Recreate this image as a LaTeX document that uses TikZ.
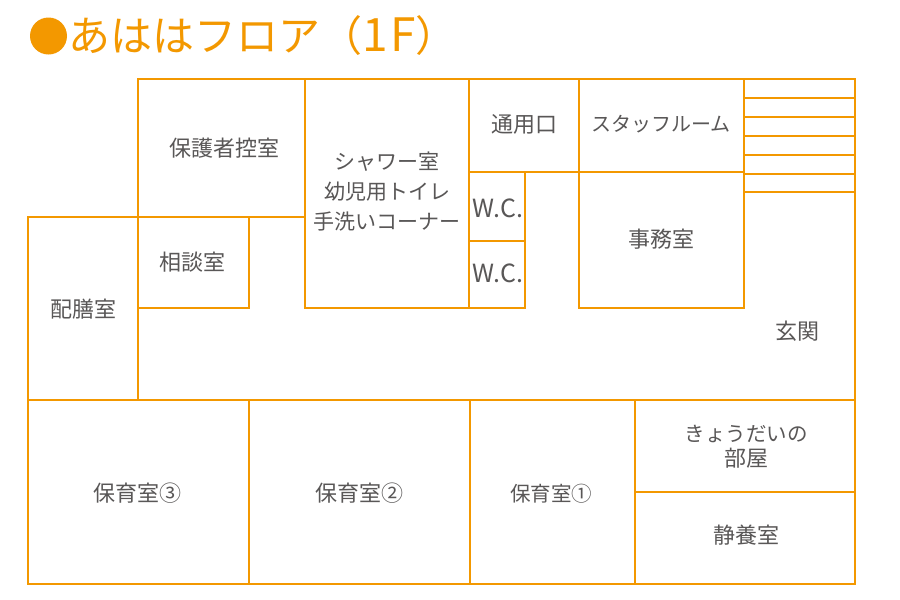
\documentclass[tikz,border=0pt]{standalone}
\usepackage{fontspec}
\setmainfont{Noto Sans CJK JP}[Scale=1]
\definecolor{wall}{HTML}{F39800}
\definecolor{ink}{HTML}{595757}
\tikzset{
  wallline/.style={draw=wall,line width=2pt},
  room/.style={text=ink,font=\fontsize{22}{30}\selectfont,inner sep=0pt,align=center},
  kanaroom/.style={room,font=\fontsize{20.5}{30}\selectfont},
  wc/.style={text=ink,font=\fontsize{25}{30}\selectfont,inner sep=0pt},
  heading/.style={text=wall,font=\fontsize{42}{46}\selectfont,inner sep=0pt,anchor=west}
}
\begin{document}
\begin{tikzpicture}[x=1pt,y=-1pt]
\useasboundingbox (0,0) rectangle (900,600);
\fill[white] (0,0) rectangle (900,600);
\fill[wall] (48.5,36) circle (18.5);
\node[heading] (title) at (68,36) {あははフロア（\fontsize{46}{46}\selectfont 1\hspace{3pt}F\hspace{-1pt}\fontsize{42}{46}\selectfont ）};
% rooms
\draw[wallline] (138,79) rectangle (305,217);
\draw[wallline] (27.5,217) rectangle (138,400);
\draw[wallline] (138,217) rectangle (249,308);
\draw[wallline] (249,217) -- (305,217);
\draw[wallline] (305,79) rectangle (469,308);
\draw[wallline] (469,79) rectangle (579,172);
\draw[wallline] (469,172) rectangle (524.5,240.5);
\draw[wallline] (469,240.5) rectangle (524.5,308);
\draw[wallline] (579,79) rectangle (744,172);
\draw[wallline] (579,172) rectangle (744,308);
% stairs
\draw[wallline] (744,79) -- (855,79) -- (855,584);
\foreach \yy in {98,117,136,155,174,192}
  \draw[wallline] (744,\yy) -- (855,\yy);
\draw[wallline] (138,308) -- (138,400);
% lower row
\draw[wallline] (27.5,400) rectangle (249,584);
\draw[wallline] (249,400) rectangle (470,584);
\draw[wallline] (470,400) rectangle (634.5,584);
\draw[wallline] (634.5,400) rectangle (855,492);
\draw[wallline] (634.5,492) rectangle (855,584);
% labels
\node[room] (hogosha) at (224,148) {保護者控室};
\node[kanaroom,font=\fontsize{21}{30}\selectfont] (shower) at (387,192) {シャワー室\\幼児用トイレ\\手洗いコーナー};
\node[room] (tsuyo) at (524,124) {通用口};
\node[kanaroom,font=\fontsize{20}{30}\selectfont] (staff) at (661,124) {スタッフルーム};
\node[room] (jimu) at (661,239) {事務室};
\node[room] (sodan) at (192,262) {相談室};
\node[room] (haizen) at (83.5,309) {配膳室};
\node[wc] (wc1) at (498,208) {W.C.};
\node[wc] (wc2) at (498,273) {W.C.};
\node[room] (genkan) at (797.5,331) {玄関};
\node[room] (r3) at (137,493) {保育室③};
\node[room] (r2) at (359,493) {保育室②};
\node[kanaroom] (r1) at (551,494) {保育室①};
\node[room,font=\fontsize{20.5}{25}\selectfont] (kyodai) at (746,447) {きょうだいの\\\fontsize{22}{25}\selectfont 部屋};
\node[room] (seiyo) at (746,535) {静養室};
\end{tikzpicture}
\end{document}
